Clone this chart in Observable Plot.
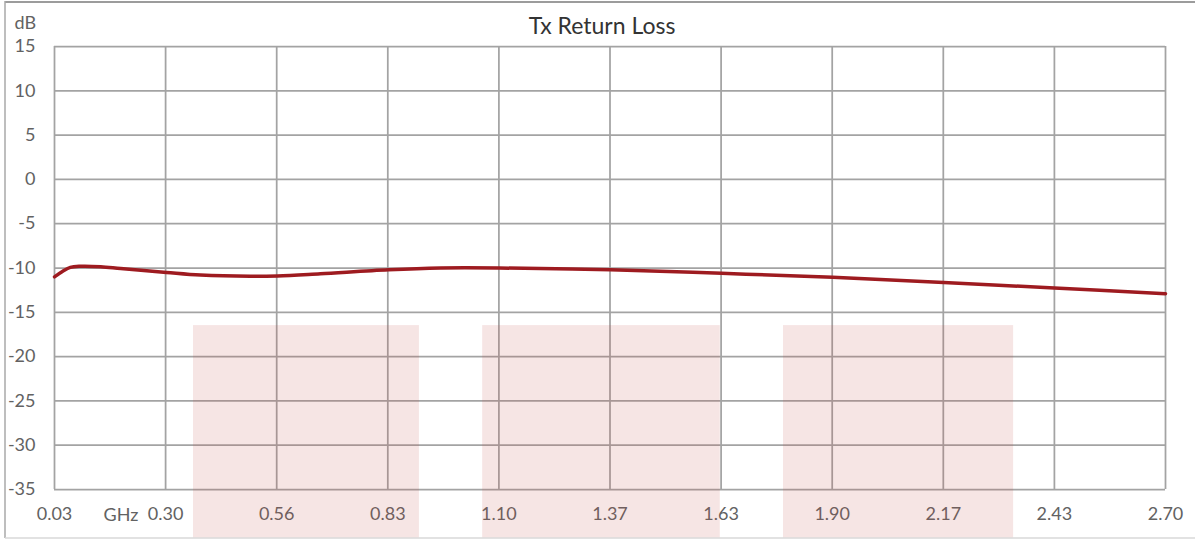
<!DOCTYPE html>
<html>
<head>
<meta charset="utf-8">
<script src="https://cdn.jsdelivr.net/npm/d3@7"></script>
<script src="https://cdn.jsdelivr.net/npm/@observablehq/plot@0.6"></script>
<style>
  html, body { margin: 0; padding: 0; background: #fff; }
  #chart svg { display: block; }
</style>
</head>
<body>
<div id="chart"></div>
<script>
// ---- data ----
const freqGHz = [0.03, 0.049, 0.068, 0.092, 0.141, 0.189, 0.299, 0.381, 0.501, 0.566, 0.669, 0.833, 0.958, 1.099, 1.366, 1.633, 1.900, 2.167, 2.433, 2.70];
const returnLossDb = [-11.0, -10.4, -9.93, -9.8, -9.85, -10.05, -10.5, -10.8, -10.94, -10.9, -10.65, -10.2, -10.0, -10.0, -10.2, -10.6, -11.05, -11.65, -12.25, -12.9];

const bandStartGHz = [0.364, 1.059, 1.782];
const bandEndGHz = [0.907, 1.630, 2.335];
const bandTopDb = -16.5;
const bandBottomDb = -40.5; // bands run down past the axis to the bottom edge

const xTickLabels = ["0.03", "0.30", "0.56", "0.83", "1.10", "1.37", "1.63", "1.90", "2.17", "2.43", "2.70"];
const yTickValues = [-35, -30, -25, -20, -15, -10, -5, 0, 5, 10, 15];

const titleText = "Tx Return Loss";
const yUnit = "dB";
const xUnit = "GHz";

// ---- build tables ----
const xMin = 0.03, xMax = 2.70;
const xTicks = xTickLabels.map((_, i) => xMin + i * (xMax - xMin) / (xTickLabels.length - 1));
const curve = freqGHz.map((f, i) => ({f, db: returnLossDb[i]}));
const bands = bandStartGHz.map((s, i) => ({x1: s, x2: bandEndGHz[i], y1: bandBottomDb, y2: bandTopDb}));

const font = "Lato, 'Open Sans', sans-serif";
const gridColor = "#a3a3a3";
const textColor = "#626262";
const tickFont = 18;

const chart = Plot.plot({
  width: 1195,
  height: 539,
  marginLeft: 54,
  marginRight: 30,
  marginTop: 46,
  marginBottom: 50,
  style: {fontFamily: font, fontSize: tickFont + "px", color: textColor, background: "#fff"},
  x: {domain: [xMin, xMax]},
  y: {domain: [-35, 15]},
  marks: [
    Plot.gridX(xTicks, {stroke: gridColor, strokeOpacity: 1, strokeWidth: 1.75}),
    Plot.gridY(yTickValues, {stroke: gridColor, strokeOpacity: 1, strokeWidth: 1.75}),
    Plot.line(curve, {x: "f", y: "db", stroke: "#9e1b20", strokeWidth: 3.5, curve: "catmull-rom"}),
    Plot.axisX(xTicks, {tickSize: 0, tickPadding: 18, tickFormat: (d, i) => xTickLabels[i], label: null, fill: textColor, fontSize: tickFont}),
    Plot.axisY(yTickValues, {tickSize: 0, tickPadding: 19, tickFormat: (d) => String(d), label: null, fill: textColor, fontSize: tickFont}),
    Plot.rect(bands, {x1: "x1", x2: "x2", y1: "y1", y2: "y2", fill: "#c0504d", fillOpacity: 0.15}),
    Plot.text([titleText], {frameAnchor: "top", dx: -8, dy: -20, lineAnchor: "middle", fontSize: 23, fill: "#333333"}),
    Plot.text([yUnit], {frameAnchor: "top-left", dx: -40, dy: -23, textAnchor: "start", lineAnchor: "middle", fontSize: tickFont, fill: textColor}),
    Plot.text([xUnit], {frameAnchor: "bottom-left", dx: 49, dy: 26, lineAnchor: "middle", fontSize: tickFont, fill: textColor})
  ]
});

// outer chart border (decoration)
const svg = d3.select(chart);
svg.append("line").attr("x1", 5).attr("x2", 1195).attr("y1", 2).attr("y2", 2).attr("stroke", "#9c9c9c").attr("stroke-width", 2);
svg.append("line").attr("x1", 5).attr("x2", 5).attr("y1", 1).attr("y2", 538).attr("stroke", "#a8a8a8").attr("stroke-width", 1.5);
svg.append("line").attr("x1", 5).attr("x2", 1195).attr("y1", 538).attr("y2", 538).attr("stroke", "#d9d9d9").attr("stroke-width", 1.5);

document.getElementById("chart").appendChild(chart);
</script>
</body>
</html>
